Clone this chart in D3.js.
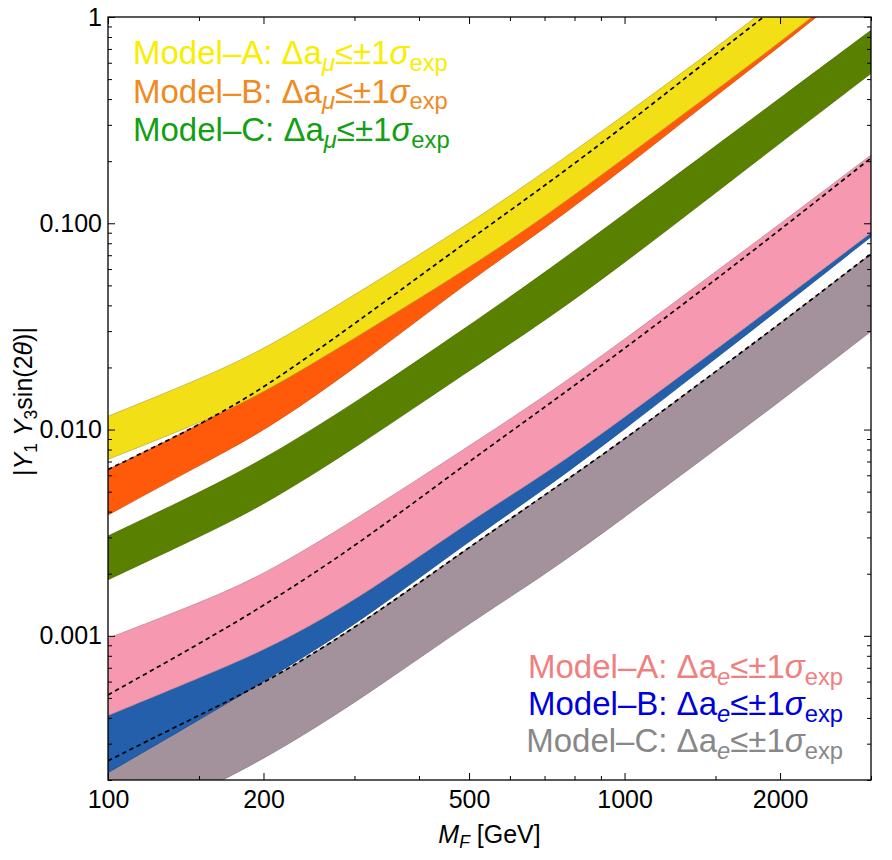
<!DOCTYPE html>
<html>
<head>
<meta charset="utf-8">
<script src="https://cdn.jsdelivr.net/npm/d3@7"></script>
<style>
  body { margin: 0; background: white; }
  text { font-family: "Liberation Sans", Arial, sans-serif; }
</style>
</head>
<body>
<div id="chart"></div>
<script>
// Masses (GeV) where band edges were read
const mass = [100, 150, 200, 300, 500, 700, 1000, 1500, 2000, 3000];

// muon bands
const muA_hi = [0.0116, 0.0175, 0.02427, 0.04489, 0.0993, 0.1773, 0.3346, 0.7055, 1.232, 2.777];
const muA_lo = [0.00717, 0.0107, 0.015, 0.02768, 0.0608, 0.1074, 0.2072, 0.4417, 0.7545, 1.682];
const muDash = [0.0064, 0.01047, 0.0158, 0.03246, 0.0831, 0.1517, 0.2959, 0.660, 1.152, 2.569];
const muB_lo = [0.00385, 0.0067, 0.00974, 0.0197, 0.0526, 0.0939, 0.1854, 0.4134, 0.7213, 1.627];
const muC_hi = [0.00305, 0.00493, 0.00715, 0.01337, 0.0319, 0.0575, 0.1110, 0.2368, 0.4043, 0.862];
const muC_lo = [0.00187, 0.00301, 0.00429, 0.0081, 0.01932, 0.0335, 0.0643, 0.1403, 0.2449, 0.5324];

// electron bands
const eA_hi = [0.000973, 0.001441, 0.001968, 0.003633, 0.008311, 0.01446, 0.02729, 0.0582, 0.0993, 0.2142];
const eA_dash = [0.000517, 0.000913, 0.001394, 0.002689, 0.00701, 0.01279, 0.02469, 0.0532, 0.0929, 0.2072];
const eA_lo = [0.000411, 0.000625, 0.000844, 0.001457, 0.003593, 0.006064, 0.01144, 0.0244, 0.04166, 0.0899];
const eB_lo = [0.000217, 0.000391, 0.000598, 0.001115, 0.002884, 0.00513, 0.01001, 0.02208, 0.03854, 0.0859];
const eB_dash = [0.000248, 0.000412, 0.000585, 0.001079, 0.002689, 0.0048, 0.008956, 0.0191, 0.0326, 0.0711];
const eC_lo = [0.000105, 0.000175, 0.000251, 0.000468, 0.001153, 0.001968, 0.003755, 0.008012, 0.01367, 0.02993];

// ticks
const xMajor = [100, 200, 500, 1000, 2000];
const xMinor = [150, 300, 400, 600, 700, 800, 900, 1500, 3000];
const yMajor = [0.001, 0.01, 0.1, 1];
const yTickLabels = ["0.001", "0.010", "0.100", "1"];

// Set dimensions
const margin = { top: 17, right: 21, bottom: 80, left: 108 },
      width = 892 - margin.left - margin.right,
      height = 860 - margin.top - margin.bottom;

const svg = d3.select("#chart")
    .append("svg")
    .attr("width", 892)
    .attr("height", 860)
    .style("background-color", "white")
    .append("g")
    .attr("transform", `translate(${margin.left},${margin.top})`);

const x = d3.scaleLog().domain([100, 3000]).range([0, width]);
const y = d3.scaleLog().domain([0.0002, 1]).range([height, 0]);

svg.append("clipPath").attr("id", "plot")
    .append("rect").attr("width", width).attr("height", height);

const plot = svg.append("g").attr("clip-path", "url(#plot)");

// smooth through the read points (readings are a bit noisy)
const curve = d3.curveBasis;

const area = (hi, lo) => d3.area()
    .curve(curve)
    .x((d, i) => x(mass[i]))
    .y0((d, i) => y(lo[i]))
    .y1((d, i) => y(hi[i]))(mass);

const line = vals => d3.line()
    .curve(curve)
    .x((d, i) => x(mass[i]))
    .y((d, i) => y(vals[i]))(mass);

// bands, back to front
const bands = [
    { hi: eB_dash, lo: eC_lo, fill: "#a3929b", edge: "#857880" },
    { hi: eA_lo,   lo: eB_lo, fill: "#235faa", edge: "#1b4c88" },
    { hi: eA_hi,   lo: eA_lo, fill: "#f598b0", edge: "#b88894" },
    { hi: muDash,  lo: muB_lo, fill: "#ff5a0a", edge: "#c84800" },
    { hi: muA_hi,  lo: muA_lo, fill: "#f3df16", edge: "#b8a838" },
    { hi: muC_hi,  lo: muC_lo, fill: "#5a8000", edge: "#4a6a00" }
];

bands.forEach(b => {
    plot.append("path")
        .attr("d", area(b.hi, b.lo))
        .attr("fill", b.fill)
        .attr("stroke", b.edge)
        .attr("stroke-width", 0.7);
});

// dashed curves
[muDash, eA_dash, eB_dash].forEach(v => {
    plot.append("path")
        .attr("d", line(v))
        .attr("fill", "none")
        .attr("stroke", "black")
        .attr("stroke-width", 1.7)
        .attr("stroke-dasharray", "4.5,3.5");
});

// frame
svg.append("rect")
    .attr("width", width)
    .attr("height", height)
    .attr("fill", "none")
    .attr("stroke", "black")
    .attr("stroke-width", 1.3);

const yMinor = y.ticks(40).filter(v => !yMajor.some(m => Math.abs(m - v) / m < 1e-6));

function ticks(g) {
    g.select(".domain").remove();
    g.selectAll("line").attr("stroke", "black").attr("stroke-width", 1);
    g.selectAll("text").style("font-size", "25px")
        .style("font-family", "'Liberation Sans', Arial, sans-serif").attr("fill", "black");
}

// bottom
svg.append("g").attr("transform", `translate(0,${height})`)
    .call(d3.axisBottom(x).tickValues(xMajor).tickSize(-7).tickPadding(10).tickFormat(d3.format("d")))
    .call(ticks);
svg.append("g").attr("transform", `translate(0,${height})`)
    .call(d3.axisBottom(x).tickValues(xMinor).tickSize(-4).tickFormat(""))
    .call(ticks);
// top
svg.append("g")
    .call(d3.axisTop(x).tickValues(xMajor).tickSize(-7).tickFormat(""))
    .call(ticks);
svg.append("g")
    .call(d3.axisTop(x).tickValues(xMinor).tickSize(-4).tickFormat(""))
    .call(ticks);
// left
svg.append("g")
    .call(d3.axisLeft(y).tickValues(yMajor).tickSize(-7).tickPadding(6)
        .tickFormat((d, i) => yTickLabels[i]))
    .call(ticks);
svg.append("g")
    .call(d3.axisLeft(y).tickValues(yMinor).tickSize(-4).tickFormat(""))
    .call(ticks);
// right
svg.append("g").attr("transform", `translate(${width},0)`)
    .call(d3.axisRight(y).tickValues(yMajor).tickSize(-7).tickFormat(""))
    .call(ticks);
svg.append("g").attr("transform", `translate(${width},0)`)
    .call(d3.axisRight(y).tickValues(yMinor).tickSize(-4).tickFormat(""))
    .call(ticks);

// rich text helper: parts = [{t, sub, it}]
function richText(parent, px, py, parts, size, color, anchor, subScale) {
    const t = parent.append("text")
        .attr("x", px).attr("y", py)
        .attr("text-anchor", anchor || "start")
        .style("font-size", size + "px")
        .attr("fill", color);
    let shifted = 0;
    parts.forEach(p => {
        const want = p.sub ? size * 0.2 : 0;
        const s = t.append("tspan").text(p.t)
            .attr("dy", want - shifted);
        shifted = want;
        if (p.sub) s.style("font-size", (size * (subScale || 0.72)) + "px");
        if (p.it) s.style("font-style", "italic");
    });
    return t;
}

// axis labels
richText(svg, width / 2, 826, [
    { t: "M", it: true }, { t: "F", sub: true, it: true }, { t: " [GeV]" }
], 25, "black", "middle", 0.7);

const ylab = svg.append("g").attr("transform", `translate(-76,${height / 2 + 3}) rotate(-90)`);
richText(ylab, 0, 0, [
    { t: "|" }, { t: "Y", it: true }, { t: "1", sub: true }, { t: " " },
    { t: "Y", it: true }, { t: "3", sub: true }, { t: "sin(2" }, { t: "θ", it: true }, { t: ")|" }
], 25, "black", "middle", 0.7);

// legends
const legendTop = [
    { name: "Model–A", color: "#f7ee00" },
    { name: "Model–B", color: "#f08a22" },
    { name: "Model–C", color: "#12a012" }
];
const legendBottom = [
    { name: "Model–A", color: "#f08080" },
    { name: "Model–B", color: "#0000dd" },
    { name: "Model–C", color: "#888888" }
];

legendTop.forEach((d, i) => {
    richText(svg, 25, 47 + i * 38.5, [
        { t: d.name + ": Δa" }, { t: "μ", sub: true, it: true }, { t: "≤±1" },
        { t: "σ", it: true }, { t: "exp", sub: true }
    ], 33, d.color, "start");
});

legendBottom.forEach((d, i) => {
    richText(svg, 735, 661 + i * 37, [
        { t: d.name + ": Δa" }, { t: "e", sub: true, it: true }, { t: "≤±1" },
        { t: "σ", it: true }, { t: "exp", sub: true }
    ], 33, d.color, "end");
});
</script>
</body>
</html>
